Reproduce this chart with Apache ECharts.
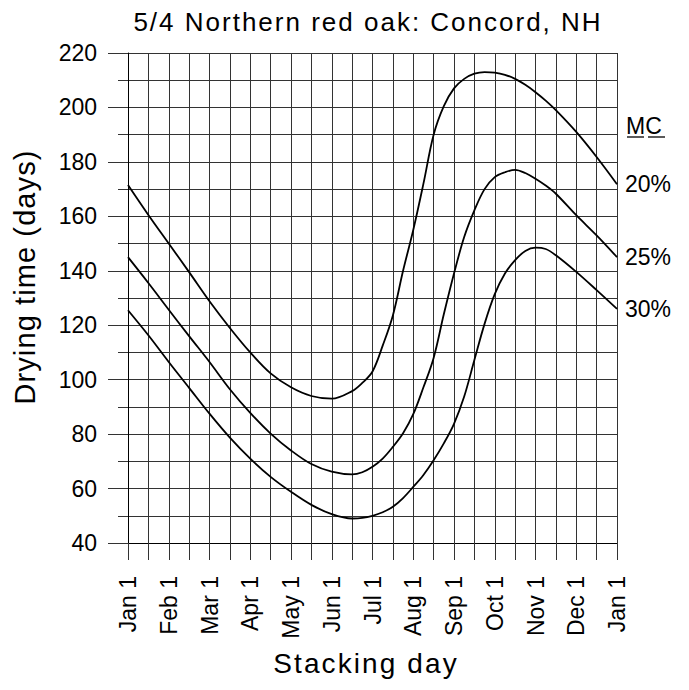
<!DOCTYPE html>
<html>
<head>
<meta charset="utf-8">
<script src="https://cdn.jsdelivr.net/npm/echarts@6/dist/echarts.min.js"></script>
<style>
  html, body { margin: 0; padding: 0; background: #fff; }
  #chart { width: 689px; height: 690px; }
  text[style*="26px"] { letter-spacing: 2px; }
  text[style*="28px"] { letter-spacing: 2.1px; }
  text[style*="29px"] { letter-spacing: 1.1px; }
</style>
</head>
<body>
<div id="chart"></div>
<script>
// Stacking day position, in months after Jan 1
var stackingMonths = [0, 0.5, 1, 1.5, 2, 2.5, 3, 3.5, 4, 4.5, 5, 5.5, 5.75, 6, 6.25, 6.5, 6.75, 7, 7.25, 7.5, 7.75, 8, 8.25, 8.5, 8.75, 9, 9.25, 9.5, 9.75, 10, 10.25, 10.5, 11, 11.5, 12];
// Drying time (days) for each moisture content
var mc20 = [171.5, 160.5, 150, 139.5, 128.8, 119, 110, 102.3, 97.2, 94, 93, 95.8, 98.8, 103, 112.5, 123.6, 140, 155, 172, 190, 200.5, 207, 210.5, 212.4, 213, 212.8, 212, 210.5, 208.3, 205.6, 202.5, 199, 191, 181.8, 171.8];
var mc25 = [145, 135.5, 125.7, 116, 106.5, 96.5, 87.8, 80.2, 74, 69, 66.2, 65.2, 66, 68, 71, 75.3, 80.3, 87.3, 97.2, 108, 124, 139, 152.4, 162.2, 170, 174.4, 176.2, 177.1, 175.9, 173.8, 171.3, 168.3, 160.4, 153, 145];
var mc30 = [125.5, 116.3, 106.5, 97, 87.5, 78.7, 71, 64.3, 58.8, 54, 50.6, 49, 49.2, 50, 51.3, 53.3, 56.5, 60.6, 65, 70.4, 76.6, 83.8, 93.8, 107.2, 120.5, 131.4, 139, 143.9, 147.3, 148.5, 148, 145.7, 139.6, 132.9, 126];
var seriesNames = ['20%', '25%', '30%'];
var monthLabels = ['Jan 1', 'Feb 1', 'Mar 1', 'Apr 1', 'May 1', 'Jun 1', 'Jul 1', 'Aug 1', 'Sep 1', 'Oct 1', 'Nov 1', 'Dec 1', 'Jan 1'];
var yTickValues = [40, 60, 80, 100, 120, 140, 160, 180, 200, 220];

var FONT = '"Liberation Sans", Arial, Helvetica, sans-serif';
var GRID_COLOR = '#333';

function pairs(ys) {
  return stackingMonths.map(function (x, i) { return [x, ys[i]]; });
}

var chart = echarts.init(document.getElementById('chart'), null, { renderer: 'svg' });

var lineStyle = { color: '#000', width: 1.8 };
function makeSeries(name, ys) {
  return {
    name: name,
    type: 'line',
    data: pairs(ys),
    smooth: 0.35,
    showSymbol: false,
    symbol: 'none',
    lineStyle: lineStyle,
    itemStyle: { color: '#000' },
    silent: true,
    animation: false,
    endLabel: {
      show: true,
      formatter: name,
      color: '#000',
      fontSize: 23,
      fontFamily: FONT,
      distance: 8
    },
    z: 5
  };
}

chart.setOption({
  animation: false,
  backgroundColor: '#fff',
  grid: { left: 128, right: 72, top: 53, bottom: 147, containLabel: false },
  xAxis: {
    type: 'value',
    min: 0,
    max: 12,
    interval: 1,
    axisLine: { show: true, onZero: false, lineStyle: { color: '#000', width: 1 } },
    axisTick: { show: true, length: 17, lineStyle: { color: GRID_COLOR, width: 1 } },
    minorTick: { show: true, splitNumber: 2, length: 17, lineStyle: { color: GRID_COLOR, width: 1 } },
    splitLine: { show: true, lineStyle: { color: GRID_COLOR, width: 1 } },
    minorSplitLine: { show: true, lineStyle: { color: GRID_COLOR, width: 1 } },
    axisLabel: {
      rotate: 90,
      margin: 33,
      color: '#000',
      fontSize: 23,
      fontFamily: FONT,
      showMinLabel: true,
      showMaxLabel: true,
      formatter: function (v) {
        var i = Math.round(v);
        return Math.abs(v - i) < 1e-6 ? monthLabels[i] : '';
      }
    }
  },
  yAxis: {
    type: 'value',
    min: yTickValues[0],
    max: yTickValues[yTickValues.length - 1],
    interval: 20,
    axisLine: { show: true, onZero: false, lineStyle: { color: '#000', width: 1 } },
    axisTick: { show: true, length: 20, lineStyle: { color: GRID_COLOR, width: 1 } },
    minorTick: { show: true, splitNumber: 2, length: 10, lineStyle: { color: GRID_COLOR, width: 1 } },
    splitLine: { show: true, lineStyle: { color: GRID_COLOR, width: 1 } },
    minorSplitLine: { show: true, lineStyle: { color: GRID_COLOR, width: 1 } },
    axisLabel: {
      margin: 31,
      color: '#000',
      fontSize: 23,
      fontFamily: FONT,
      showMinLabel: true,
      showMaxLabel: true
    }
  },
  graphic: [
    {
      type: 'text',
      x: 368, y: 22,
      style: {
        text: '5/4 Northern red oak: Concord, NH',
        font: '26px ' + FONT,
        fill: '#000',
        textAlign: 'center',
        textVerticalAlign: 'middle'
      }
    },
    {
      type: 'text',
      x: 25, y: 277,
      rotation: Math.PI / 2,
      style: {
        text: 'Drying time (days)',
        font: '29px ' + FONT,
        fill: '#000',
        textAlign: 'center',
        textVerticalAlign: 'middle'
      }
    },
    {
      type: 'text',
      x: 366, y: 663,
      style: {
        text: 'Stacking day',
        font: '28px ' + FONT,
        fill: '#000',
        textAlign: 'center',
        textVerticalAlign: 'middle'
      }
    },
    {
      type: 'text',
      x: 626, y: 126,
      style: {
        text: 'MC',
        font: '23px ' + FONT,
        fill: '#000',
        textAlign: 'left',
        textVerticalAlign: 'middle'
      }
    },
    {
      type: 'line',
      shape: { x1: 627, y1: 137, x2: 644, y2: 137 },
      style: { stroke: '#000', lineWidth: 1.3 }
    },
    {
      type: 'line',
      shape: { x1: 648, y1: 137, x2: 665, y2: 137 },
      style: { stroke: '#000', lineWidth: 1.3 }
    }
  ],
  series: [
    makeSeries(seriesNames[0], mc20),
    makeSeries(seriesNames[1], mc25),
    makeSeries(seriesNames[2], mc30)
  ]
});
</script>
</body>
</html>
